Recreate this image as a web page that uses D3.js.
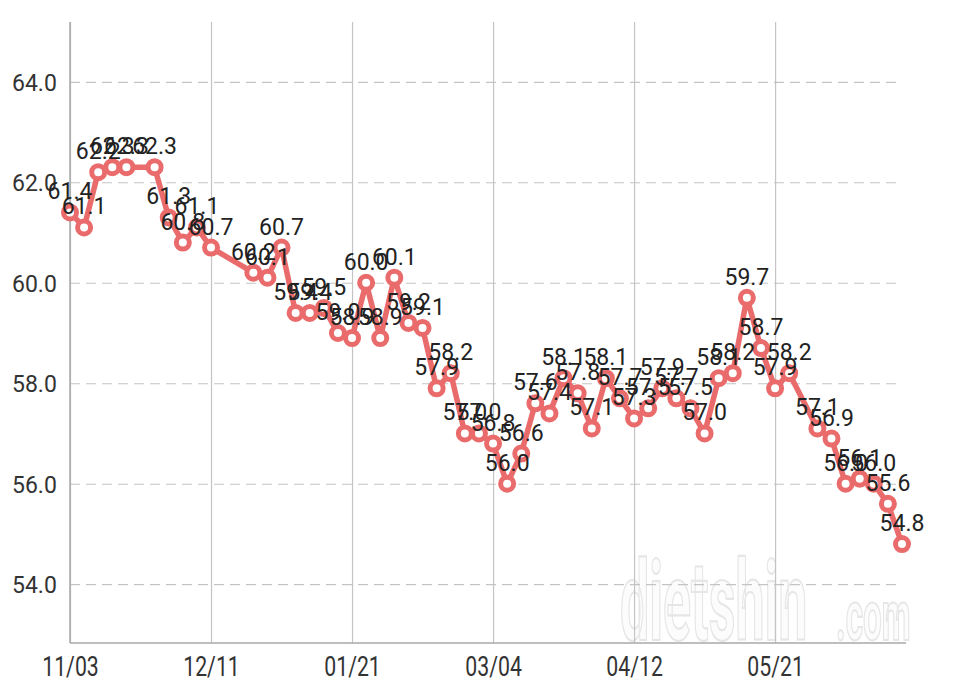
<!DOCTYPE html>
<html>
<head>
<meta charset="utf-8">
<script src="https://cdn.jsdelivr.net/npm/d3@7"></script>
<style>
  html, body { margin: 0; padding: 0; background: #ffffff; }
  svg { display: block; }
</style>
</head>
<body>
<svg id="chart" width="960" height="692"></svg>
<script>
// ---- data ----
const xIndex = [0, 1, 2, 3, 4, 6, 7, 8, 9, 10, 13, 14, 15, 16, 17, 18, 19, 20, 21, 22,
  23, 24, 25, 26, 27, 28, 29, 30, 31, 32, 33, 34, 35, 36, 37, 38, 39, 40, 41, 42,
  43, 44, 45, 46, 47, 48, 49, 50, 51, 53, 54, 55, 56, 57, 58, 59];
const weights = [61.4, 61.1, 62.2, 62.3, 62.3, 62.3, 61.3, 60.8, 61.1, 60.7, 60.2, 60.1, 60.7, 59.4, 59.4, 59.5, 59.0, 58.9, 60.0, 58.9,
  60.1, 59.2, 59.1, 57.9, 58.2, 57.0, 57.0, 56.8, 56.0, 56.6, 57.6, 57.4, 58.1, 57.8, 57.1, 58.1, 57.7, 57.3, 57.5, 57.9,
  57.7, 57.5, 57.0, 58.1, 58.2, 59.7, 58.7, 57.9, 58.2, 57.1, 56.9, 56.0, 56.1, 56.0, 55.6, 54.8];
const xTickPos = [0, 10, 20, 30, 40, 50];
const xTickLabels = ["11/03", "12/11", "01/21", "03/04", "04/12", "05/21"];
const yTicks = [54, 56, 58, 60, 62, 64];

(function () {
const points = xIndex.map((x, i) => ({ x: x, v: weights[i] }));

// ---- layout ----
const svg = d3.select("#chart");
const mLeft = 70, mRight = 902, mTop = 22, mBottom = 643;
const x = d3.scaleLinear().domain([0, 59]).range([mLeft, mRight]);
const y = d3.scaleLinear().domain([52.83, 65.19]).range([mBottom, mTop]);

const lineColor = "#ea6b6c";
const gridColor = "#c4c4c4";

// watermark
svg.append("text")
  .attr("transform", "translate(620,640) scale(0.52,1.12)")
  .attr("font-family", "Roboto, sans-serif")
  .attr("font-size", 100)
  .attr("font-weight", 700)
  .attr("fill", "#fcfcfc")
  .attr("stroke", "#e6e6e6")
  .attr("stroke-width", 2)
  .text("dietshin");
svg.append("text")
  .attr("transform", "translate(836,640) scale(0.52,1.1)")
  .attr("font-family", "Roboto, sans-serif")
  .attr("font-size", 64)
  .attr("font-weight", 700)
  .attr("fill", "#fcfcfc")
  .attr("stroke", "#e6e6e6")
  .attr("stroke-width", 2)
  .text(".com");

// horizontal dashed grid
const yAxis = d3.axisLeft(y).tickValues(yTicks).tickSize(-(mRight - mLeft)).tickFormat(d3.format(".1f"));
const gy = svg.append("g").attr("transform", `translate(${mLeft},0)`).call(yAxis);
gy.select(".domain").remove();
gy.selectAll(".tick line")
  .attr("stroke", gridColor).attr("stroke-width", 1.2).attr("stroke-dasharray", "10,6");
gy.selectAll(".tick text")
  .attr("x", -58).attr("dy", "0.36em").attr("text-anchor", "start")
  .attr("font-family", "Roboto, sans-serif").attr("font-size", 23)
  .attr("fill", "#333");

// vertical grid + x labels
const xAxis = d3.axisBottom(x).tickValues(xTickPos).tickSize(-(mBottom - mTop))
  .tickFormat((d, i) => xTickLabels[i]);
const gx = svg.append("g").attr("transform", `translate(0,${mBottom})`).call(xAxis);
gx.select(".domain").remove();
gx.selectAll(".tick line").attr("stroke", gridColor).attr("stroke-width", 1.2);
gx.selectAll(".tick text")
  .attr("y", 0).attr("dy", 0)
  .attr("transform", "translate(0,33) scale(0.76,1)")
  .attr("font-family", "Roboto, sans-serif").attr("font-size", 28)
  .attr("fill", "#333");

// axis lines
svg.append("line").attr("x1", mLeft).attr("x2", mLeft).attr("y1", mTop).attr("y2", mBottom)
  .attr("stroke", "#a8a8a8").attr("stroke-width", 1.5);
svg.append("line").attr("x1", mLeft).attr("x2", mRight + 4).attr("y1", mBottom).attr("y2", mBottom)
  .attr("stroke", "#a8a8a8").attr("stroke-width", 1.5);

// line
const line = d3.line().x(d => x(d.x)).y(d => y(d.v));
svg.append("path").datum(points)
  .attr("d", line)
  .attr("fill", "none")
  .attr("stroke", lineColor)
  .attr("stroke-width", 5.5)
  .attr("stroke-linejoin", "round");

// markers
svg.append("g").selectAll("circle").data(points).join("circle")
  .attr("cx", d => x(d.x)).attr("cy", d => y(d.v))
  .attr("r", 6.5)
  .attr("fill", "#fff")
  .attr("stroke", lineColor)
  .attr("stroke-width", 5);

// value labels
svg.append("g").selectAll("text").data(points).join("text")
  .attr("x", d => x(d.x)).attr("y", d => y(d.v) - 13)
  .attr("text-anchor", "middle")
  .attr("font-family", "Roboto, sans-serif")
  .attr("font-size", 23)
  .attr("fill", "#222")
  .text(d => d.v.toFixed(1));
})();
</script>
</body>
</html>
